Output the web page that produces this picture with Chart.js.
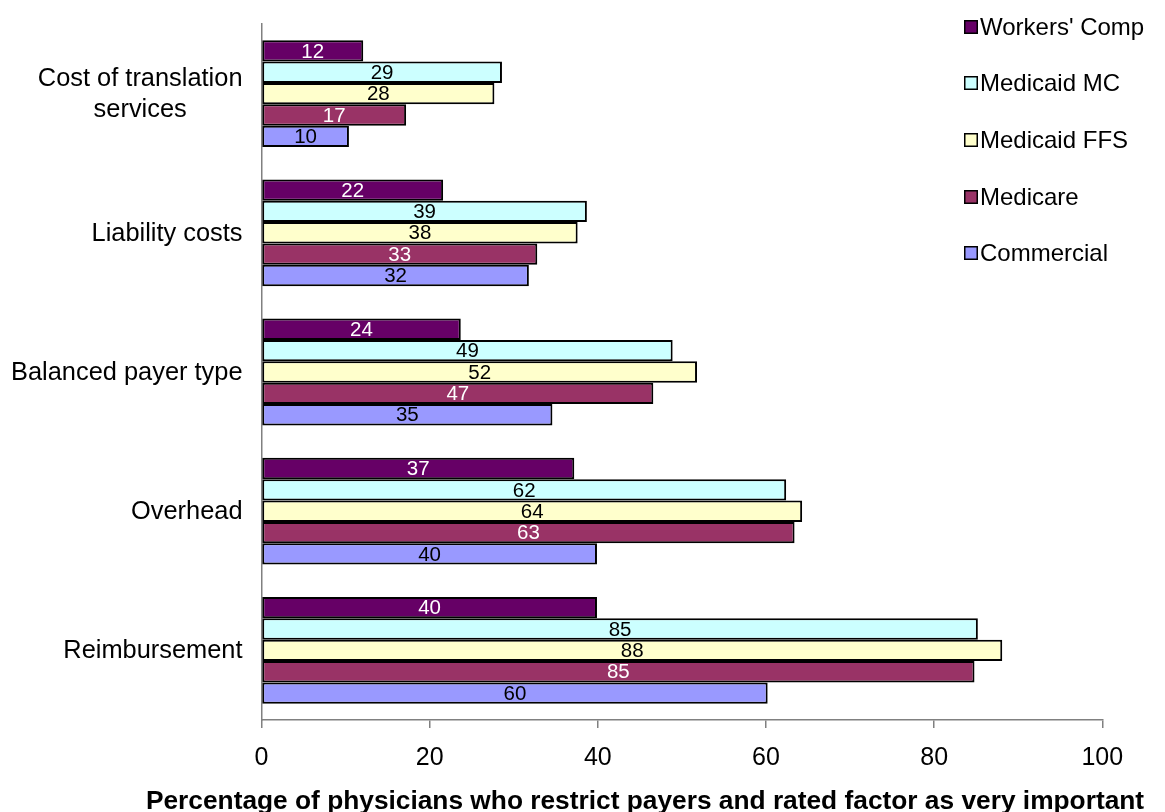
<!DOCTYPE html>
<html>
<head>
<meta charset="utf-8">
<script src="https://cdn.jsdelivr.net/npm/chart.js@4.4.1/dist/chart.umd.min.js"></script>
<style>
  html, body { margin: 0; padding: 0; background: #ffffff; }
  #wrap { width: 1165px; height: 812px; }
</style>
</head>
<body>
<div id="wrap"><canvas id="c" width="1165" height="812"></canvas></div>
<script>
// ---- data ----
const categories = [['Cost of translation', 'services'], 'Liability costs', 'Balanced payer type', 'Overhead', 'Reimbursement'];
const seriesNames = ["Workers' Comp", 'Medicaid MC', 'Medicaid FFS', 'Medicare', 'Commercial'];
const workersComp = [12.1, 21.6, 23.7, 37.2, 39.9];
const medicaidMC  = [28.6, 38.7, 48.9, 62.4, 85.2];
const medicaidFFS = [27.7, 37.6, 51.8, 64.3, 88.1];
const medicare    = [17.2, 32.8, 46.6, 63.4, 84.8];
const commercial  = [10.4, 31.8, 34.6, 39.9, 60.2];
const xTickValues = [0, 20, 40, 60, 80, 100];
const axisTitle = 'Percentage of physicians who restrict payers and rated factor as very important';

// ---- styles ----
const fillColors  = ['#660066', '#CCFFFF', '#FFFFCC', '#993366', '#9999FF'];
const labelColors = ['#ffffff', '#000000', '#000000', '#ffffff', '#000000'];
const FONT = '"Liberation Sans", Arial, sans-serif';
const seriesValues = [workersComp, medicaidMC, medicaidFFS, medicare, commercial];

const datasets = seriesNames.map((name, i) => ({
  label: name,
  data: seriesValues[i],
  backgroundColor: fillColors[i],
  borderColor: '#000000',
  borderWidth: 2,
  borderSkipped: false,
  barPercentage: 1.0,
  categoryPercentage: 0.767
}));

const valueLabels = {
  id: 'valueLabels',
  afterDatasetsDraw(chart) {
    const ctx = chart.ctx;
    ctx.save();
    ctx.font = '20.5px ' + FONT;
    ctx.textAlign = 'center';
    ctx.textBaseline = 'middle';
    chart.data.datasets.forEach((ds, di) => {
      const meta = chart.getDatasetMeta(di);
      meta.data.forEach((bar, i) => {
        const cx = (bar.x + bar.base) / 2;
        ctx.fillStyle = labelColors[di];
        ctx.fillText(String(Math.round(ds.data[i])), cx, bar.y + 1);
      });
    });
    ctx.restore();
  }
};

const categoryLabels = {
  id: 'categoryLabels',
  afterDraw(chart) {
    const ctx = chart.ctx;
    const yScale = chart.scales.y;
    const rightEdge = chart.chartArea.left - 19;
    const lh = 31;
    ctx.save();
    ctx.font = '25.4px ' + FONT;
    ctx.fillStyle = '#000000';
    ctx.textBaseline = 'middle';
    categories.forEach((cat, i) => {
      const lines = Array.isArray(cat) ? cat : [cat];
      const y = yScale.getPixelForValue(i);
      const widths = lines.map(l => ctx.measureText(l).width);
      const maxW = Math.max(...widths);
      const cx = rightEdge - maxW / 2;
      ctx.textAlign = 'center';
      lines.forEach((l, k) => {
        const ly = y - (lines.length - 1) * lh / 2 + k * lh + 1;
        ctx.fillText(l, cx, ly);
      });
    });
    ctx.restore();
  }
};

const customLegend = {
  id: 'customLegend',
  afterDraw(chart) {
    const ctx = chart.ctx;
    const textX = 980;
    const rowY = [27, 83, 140, 197, 253];
    const sq = 14;
    ctx.save();
    ctx.font = '24px ' + FONT;
    ctx.textAlign = 'left';
    ctx.textBaseline = 'middle';
    seriesNames.forEach((name, i) => {
      const y = rowY[i];
      ctx.fillStyle = fillColors[i];
      ctx.fillRect(textX - sq - 2, y - sq / 2, sq, sq);
      ctx.strokeStyle = '#000000';
      ctx.lineWidth = 1.5;
      ctx.strokeRect(textX - sq - 2 + 0.75, y - sq / 2 + 0.75, sq - 1.5, sq - 1.5);
      ctx.fillStyle = '#000000';
      ctx.fillText(name, textX, y + 1);
    });
    ctx.restore();
  }
};

const bottomTitle = {
  id: 'bottomTitle',
  afterDraw(chart) {
    const ctx = chart.ctx;
    ctx.save();
    ctx.font = 'bold 26.3px ' + FONT;
    ctx.fillStyle = '#000000';
    ctx.textAlign = 'center';
    ctx.textBaseline = 'middle';
    ctx.fillText(axisTitle, 645, 802);
    ctx.restore();
  }
};

new Chart(document.getElementById('c'), {
  type: 'bar',
  data: { labels: categories, datasets },
  plugins: [valueLabels, categoryLabels, customLegend, bottomTitle],
  options: {
    indexAxis: 'y',
    responsive: false,
    animation: false,
    devicePixelRatio: 1,
    layout: { padding: { top: 24, right: 62.7, left: 0, bottom: 0 } },
    plugins: {
      legend: { display: false },
      tooltip: { enabled: false },
      title: { display: false }
    },
    scales: {
      x: {
        type: 'linear',
        min: 0,
        max: 100,
        afterBuildTicks(scale) { scale.ticks = xTickValues.map(v => ({ value: v })); },
        afterFit(scale) { scale.height = 92; },
        grid: {
          display: true,
          drawOnChartArea: false,
          drawTicks: true,
          tickLength: 8,
          color: '#808080',
          lineWidth: 1.5
        },
        border: { display: true, color: '#808080', width: 1.5 },
        ticks: {
          padding: 15,
          color: '#000000',
          font: { family: FONT, size: 25 }
        }
      },
      y: {
        type: 'category',
        afterFit(scale) { scale.width = 261.5; },
        grid: { display: false },
        border: { display: true, color: '#808080', width: 1.5 },
        ticks: { display: false }
      }
    }
  }
});
</script>
</body>
</html>
